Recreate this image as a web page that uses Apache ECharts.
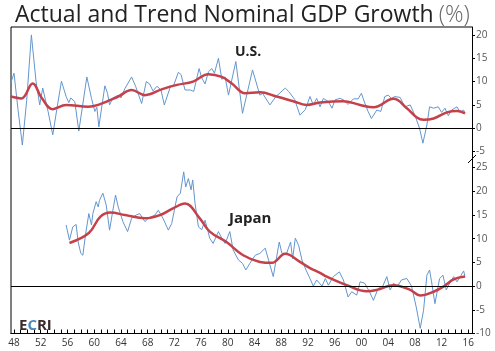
<!DOCTYPE html>
<html>
<head>
<meta charset="utf-8">
<script src="https://cdn.jsdelivr.net/npm/echarts@6/dist/echarts.min.js"></script>
<style>
  html, body { margin: 0; padding: 0; background: #fff; }
  #main { width: 495px; height: 351px; }
</style>
</head>
<body>
<div id="main"></div>
<script>
// ---------- data (years as decimal, values in %)
var usActualYears = [1947.5, 1948.0, 1948.6, 1949.25, 1949.9, 1950.6, 1951.3, 1951.85, 1952.3, 1953.1, 1953.8, 1954.4, 1955.1, 1955.8, 1956.2, 1956.5, 1957.1, 1957.7, 1958.9, 1959.6, 1960.1, 1960.4, 1960.7, 1961.6, 1962.0, 1962.3, 1962.8, 1963.6, 1964.0, 1964.6, 1965.6, 1966.2, 1967.1, 1967.8, 1968.3, 1968.8, 1969.4, 1970.0, 1970.5, 1971.4, 1971.9, 1972.6, 1973.0, 1973.6, 1974.4, 1974.9, 1975.7, 1976.1, 1976.6, 1977.1, 1977.6, 1978.0, 1978.6, 1979.1, 1979.6, 1980.1, 1981.2, 1982.2, 1983.7, 1984.8, 1985.2, 1986.3, 1987.2, 1988.6, 1989.1, 1990.0, 1990.8, 1991.6, 1992.3, 1992.8, 1993.3, 1993.8, 1994.3, 1995.05, 1995.6, 1996.05, 1996.8, 1997.3, 1998.0, 1998.8, 1999.5, 2000.0, 2000.5, 2001.0, 2001.5, 2002.3, 2002.9, 2003.5, 2004.0, 2004.5, 2005.0, 2005.8, 2006.5, 2007.3, 2008.0, 2008.7, 2009.2, 2009.8, 2010.2, 2010.8, 2011.5, 2012.0, 2012.5, 2013.0, 2013.5, 2014.3, 2014.8, 2015.3, 2015.5];
var usActual = [9.6, 11.8, 4, -3.6, 6, 20, 10, 5, 8.6, 3.6, -1.4, 4, 10.1, 6.8, 5.5, 6.5, 5.7, -0.6, 11, 6.4, 3.6, 4.5, 0.3, 9.1, 7.5, 5, 6.5, 7.1, 6.5, 8.5, 11, 9, 5.3, 10, 9.5, 8, 9, 8.2, 5, 8.9, 9.2, 12, 11.5, 8.2, 8.2, 7.9, 12.8, 10.8, 9.5, 12.1, 12.8, 11.8, 15, 10.5, 11, 7.1, 14.3, 3.2, 12.5, 7.1, 7.5, 5, 6.8, 8.6, 7.9, 6.2, 2.8, 4, 6.8, 5, 6.4, 4.6, 6.4, 5.7, 4.3, 6.1, 6.4, 6.1, 5.1, 6.3, 6.3, 7.5, 5.4, 3.6, 2.1, 3.9, 3.6, 6.8, 7.1, 6.4, 6.8, 6.6, 4.6, 5, 2.8, 0, -3.2, 0.7, 4.6, 4.3, 4.6, 3.4, 4.3, 2.7, 3.9, 4.6, 3.4, 3.9, 3.2];

var usTrendYears = [1947.5, 1949.1, 1950.8, 1952.1, 1953.8, 1955.8, 1959.1, 1960.6, 1963.6, 1965.6, 1967.6, 1970.2, 1972.4, 1974.8, 1977.1, 1979.1, 1980.6, 1982.6, 1984.8, 1987.3, 1989.8, 1991.8, 1993.8, 1997.3, 1999.8, 2001.8, 2004.8, 2006.8, 2008.3, 2009.3, 2010.8, 2012.8, 2014.3, 2015.5];
var usTrend = [6.8, 6.4, 9.6, 6.6, 4.1, 5, 4.6, 5, 6.8, 8.2, 7.1, 8.4, 9.3, 10, 11.6, 11, 9.6, 7.5, 7.7, 6.8, 5.8, 5, 5.5, 5.8, 5, 4.5, 6.3, 4.3, 2.3, 1.8, 2.1, 3.4, 3.7, 3.2];

var jpActualYears = [1955.8, 1956.3, 1956.8, 1957.3, 1957.6, 1958.0, 1958.3, 1958.7, 1959.2, 1959.6, 1959.8, 1960.3, 1960.6, 1960.8, 1961.3, 1961.8, 1962.3, 1962.8, 1963.2, 1963.6, 1964.3, 1965.0, 1965.6, 1966.3, 1966.8, 1967.6, 1968.1, 1969.1, 1969.6, 1970.3, 1971.1, 1971.6, 1972.4, 1972.9, 1973.4, 1973.7, 1974.1, 1974.5, 1974.75, 1975.1, 1975.6, 1976.1, 1976.6, 1977.3, 1977.8, 1978.6, 1979.1, 1979.6, 1980.3, 1980.8, 1981.6, 1982.2, 1982.7, 1983.3, 1984.1, 1984.8, 1985.6, 1986.1, 1986.8, 1987.7, 1988.1, 1988.8, 1989.4, 1989.7, 1990.1, 1990.6, 1991.1, 1991.7, 1992.3, 1992.8, 1993.3, 1994.1, 1994.6, 1995.05, 1995.8, 1996.7, 1997.3, 1998.0, 1998.55, 1999.3, 1999.8, 2000.5, 2001.2, 2001.8, 2002.5, 2003.2, 2003.8, 2004.3, 2004.8, 2005.4, 2006.0, 2006.8, 2007.5, 2008.2, 2008.8, 2009.3, 2009.8, 2010.2, 2010.5, 2011.0, 2011.7, 2012.2, 2012.7, 2013.2, 2013.8, 2014.3, 2014.8, 2015.3, 2015.5];
var jpActual = [12.9, 9.7, 12.5, 13, 9.3, 6.9, 6.5, 10.8, 15.3, 12.9, 15.3, 17.8, 16.7, 18.1, 19.6, 17.1, 11.8, 16, 19.2, 16.7, 13.6, 11.5, 14.3, 15, 15.3, 13.6, 14.3, 15, 16, 14.3, 11.8, 13.2, 18.8, 19.6, 24.1, 20.9, 22.7, 20.3, 22.4, 17.4, 12.5, 11.9, 13.9, 10.1, 9, 11.5, 10.1, 9, 11.5, 7.6, 5.5, 4.8, 3.4, 4.8, 6.5, 6.9, 8, 5.5, 2, 9.3, 6.9, 6.9, 9.3, 5.8, 10.1, 8.6, 5.5, 3.4, 1.6, 0, 1.3, 0, 1.6, 0.2, 2, 3, 1.3, -2.3, -1.2, -1.9, 0.9, 0.6, -1.2, -3, -0.5, 0, 2, -0.8, 0.6, 0, 1.3, 1.6, 0, -4.4, -8.9, -5.1, 2.3, 3.4, 0.9, -3.7, 1.6, 2.3, -0.8, 0.6, 2, 0.9, 2, 3.2, 2];

var jpTrendYears = [1956.3, 1959.2, 1960.9, 1962.4, 1964.6, 1967.6, 1969.9, 1971.8, 1973.6, 1975.8, 1977.3, 1979.8, 1982.3, 1984.8, 1986.6, 1988.6, 1990.8, 1992.3, 1993.8, 1994.8, 1997.8, 2000.8, 2002.3, 2004.8, 2007.3, 2008.8, 2010.8, 2012.3, 2013.8, 2015.5];
var jpTrend = [9.1, 11.2, 14.6, 15.5, 15, 14.3, 15, 16.4, 17.4, 14.3, 11.5, 9.3, 6.5, 5.1, 4.9, 6.8, 5.1, 3.8, 2.8, 2, 0.2, -1.1, -0.8, 0.2, -0.8, -2, -1.2, -0.1, 1.4, 2];

// tick labels
var yearTicks = [];
for (var y = 1948; y <= 2016; y++) yearTicks.push(y);
var yearLabels = yearTicks.filter(function (v) { return v % 4 === 0; });
var usTicks = [-5, 0, 5, 10, 15, 20];
var jpTicks = [-10, -5, 0, 5, 10, 15, 20, 25];

// ---------- helpers
function pairs(xs, ys) {
  var arr = [];
  for (var i = 0; i < xs.length; i++) arr.push([xs[i], ys[i]]);
  return arr;
}
function twoDigit(v) {
  var s = String(Math.round(v) % 100);
  return s.length < 2 ? "0" + s : s;
}

var BLUE = "#6496cd";
var RED = "#c4404a";
var fontFam = "'Open Sans', 'DejaVu Sans', sans-serif";

var zeroLine = {
  silent: true,
  symbol: "none",
  label: { show: false },
  lineStyle: { color: "#000", width: 1, type: "solid" },
  data: [{ yAxis: 0 }],
};

function xAxisFor(gridIndex, showIt) {
  return {
    type: "value",
    gridIndex: gridIndex,
    min: 1947.55,
    max: 2016.55,
    splitLine: { show: false },
    axisLine: { show: showIt, onZero: false, lineStyle: { color: "#000", width: 1 } },
    axisTick: {
      show: showIt,
      inside: true,
      length: 4,
      customValues: yearTicks,
      lineStyle: { color: "#000" },
    },
    axisLabel: {
      show: showIt,
      customValues: yearLabels,
      formatter: twoDigit,
      color: "#333",
      fontSize: 10,
      fontFamily: fontFam,
      margin: 5,
    },
  };
}

function yAxisFor(gridIndex, min, max, ticks) {
  return {
    type: "value",
    gridIndex: gridIndex,
    position: "right",
    min: min,
    max: max,
    splitLine: { show: false },
    axisLine: { show: true, lineStyle: { color: "#000", width: 1 } },
    axisTick: { show: true, length: 3, customValues: ticks, lineStyle: { color: "#000" } },
    axisLabel: {
      customValues: ticks,
      color: "#555",
      fontSize: 10,
      fontFamily: fontFam,
      margin: 4,
    },
  };
}

var myChart = echarts.init(document.getElementById("main"));

var option = {
  animation: false,
  backgroundColor: "#fff",
  title: [
    {
      text: "{a|Actual and Trend Nominal GDP Growth} {b|(%)}",
      left: 10,
      top: -1,
      textStyle: {
        rich: {
          a: { fontSize: 23, fontWeight: "normal", color: "#222", fontFamily: fontFam },
          b: { fontSize: 23, fontWeight: 300, color: "#666", fontFamily: fontFam },
        },
      },
    },
    {
      text: "U.S.",
      left: 230,
      top: 40,
      textStyle: { fontSize: 14, fontWeight: "bold", color: "#222", fontFamily: fontFam },
    },
    {
      text: "Japan",
      left: 224,
      top: 206,
      textStyle: { fontSize: 15, fontWeight: "bold", color: "#222", fontFamily: fontFam },
    },
    {
      text: "{e|E}{c|C}{e|RI}",
      left: 14,
      top: 313,
      textStyle: {
        rich: {
          e: { fontSize: 15, fontWeight: "bold", color: "#3a2c2c", fontFamily: fontFam },
          c: { fontSize: 15, fontWeight: "bold", color: "#4a88c0", fontFamily: fontFam },
        },
      },
    },
  ],
  grid: [
    { left: 11, right: 23, top: 27, height: 133 },
    { left: 11, right: 23, top: 160, height: 173.5 },
  ],
  xAxis: [xAxisFor(0, false), xAxisFor(1, true)],
  yAxis: [yAxisFor(0, -6.8, 21.7, usTicks), yAxisFor(1, -10, 26.6, jpTicks)],
  // frame on the left and top, plus the axis break mark
  graphic: [
    {
      type: "polyline",
      silent: true,
      shape: { points: [[11, 334], [11, 27], [472, 27]] },
      style: { stroke: "#000", lineWidth: 1, fill: null },
    },
    {
      type: "line",
      silent: true,
      shape: { x1: 468, y1: 163, x2: 476, y2: 155 },
      style: { stroke: "#000", lineWidth: 1 },
    },
  ],
  series: [
    {
      name: "US actual",
      type: "line",
      xAxisIndex: 0,
      yAxisIndex: 0,
      data: pairs(usActualYears, usActual),
      symbol: "none",
      lineStyle: { color: BLUE, width: 1 },
      markLine: zeroLine,
      z: 2,
    },
    {
      name: "US trend",
      type: "line",
      xAxisIndex: 0,
      yAxisIndex: 0,
      data: pairs(usTrendYears, usTrend),
      symbol: "none",
      smooth: 0.4,
      lineStyle: { color: RED, width: 2.5 },
      z: 3,
    },
    {
      name: "Japan actual",
      type: "line",
      xAxisIndex: 1,
      yAxisIndex: 1,
      data: pairs(jpActualYears, jpActual),
      symbol: "none",
      lineStyle: { color: BLUE, width: 1 },
      markLine: zeroLine,
      z: 2,
    },
    {
      name: "Japan trend",
      type: "line",
      xAxisIndex: 1,
      yAxisIndex: 1,
      data: pairs(jpTrendYears, jpTrend),
      symbol: "none",
      smooth: 0.4,
      lineStyle: { color: RED, width: 2.5 },
      z: 3,
    },
  ],
};

myChart.setOption(option);
</script>
</body>
</html>
